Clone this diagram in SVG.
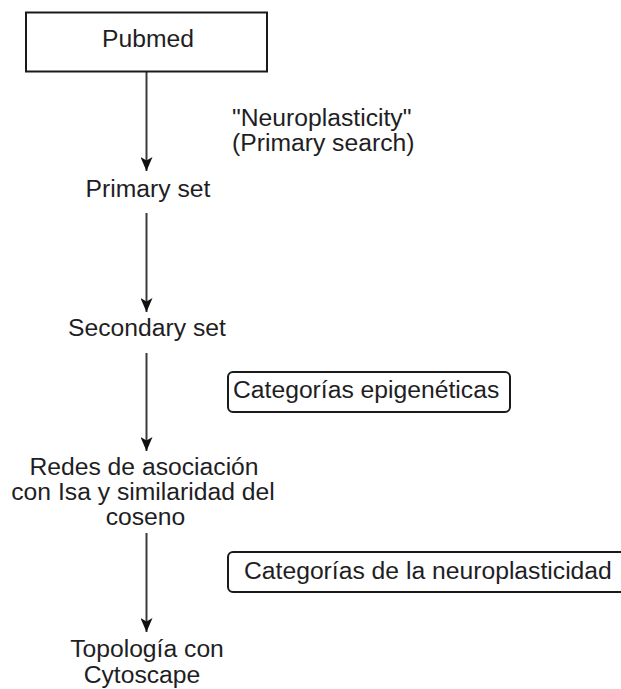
<svg xmlns="http://www.w3.org/2000/svg" width="621" height="689" viewBox="0 0 621 689">
  <defs>
    <style>
      .t { font-family: "Liberation Sans", Arial, sans-serif; font-size: 24.7px; fill: #1e1e24; }
      .c { text-anchor: middle; }
      .box { fill: #ffffff; stroke: #1a1a1a; stroke-width: 2; }
      .edge { stroke: #3a3a3a; stroke-width: 2; fill: none; }
    </style>
    <marker id="arr" viewBox="0 0 14 12" refX="14" refY="6" markerWidth="14" markerHeight="12" markerUnits="userSpaceOnUse" orient="auto">
      <path d="M0,0 L14,6 L0,12 L3.5,6 Z" fill="#111111"/>
    </marker>
  </defs>
  <rect width="621" height="689" fill="#ffffff"/>

  <g id="connectors">
    <line class="edge" x1="146.5" y1="72" x2="146.5" y2="171" marker-end="url(#arr)"/>
    <line class="edge" x1="146.5" y1="213" x2="146.5" y2="312" marker-end="url(#arr)"/>
    <line class="edge" x1="146.5" y1="353" x2="146.5" y2="451" marker-end="url(#arr)"/>
    <line class="edge" x1="146.5" y1="533" x2="146.5" y2="632" marker-end="url(#arr)"/>
  </g>

  <g id="pubmed">
    <rect class="box" x="26" y="12.5" width="241" height="59"/>
    <text class="t c" x="148" y="47">Pubmed</text>
  </g>

  <g id="search-label">
    <text class="t" x="232" y="126">"Neuroplasticity"</text>
    <text class="t" x="232" y="151">(Primary search)</text>
  </g>

  <g id="primary-set">
    <text class="t c" x="148" y="197">Primary set</text>
  </g>

  <g id="secondary-set">
    <text class="t c" x="147" y="336">Secondary set</text>
  </g>

  <g id="epigeneticas">
    <rect class="box" x="228" y="372" width="282" height="40" rx="5"/>
    <text class="t" x="233" y="398">Categorías epigenéticas</text>
  </g>

  <g id="redes">
    <text class="t c" x="144" y="475">Redes de asociación</text>
    <text class="t c" x="143" y="500">con Isa y similaridad del</text>
    <text class="t c" x="145.5" y="525">coseno</text>
  </g>

  <g id="neuroplasticidad">
    <rect class="box" x="228" y="552" width="400" height="40" rx="5"/>
    <text class="t" x="244" y="579">Categorías de la neuroplasticidad</text>
  </g>

  <g id="topologia">
    <text class="t c" x="147" y="657">Topología con</text>
    <text class="t c" x="142" y="683">Cytoscape</text>
  </g>
</svg>
